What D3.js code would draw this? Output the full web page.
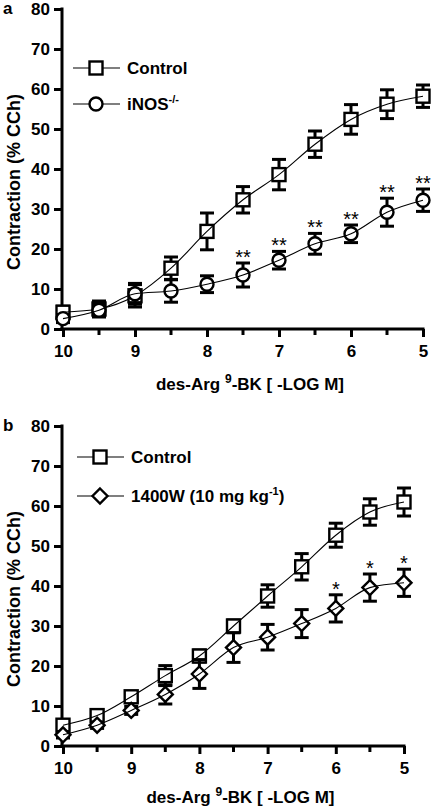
<!DOCTYPE html>
<html>
<head>
<meta charset="utf-8">
<script src="https://cdn.jsdelivr.net/npm/d3@7"></script>
<style>
  html, body { margin: 0; padding: 0; background: #fff; }
  svg { display: block; }
  text { font-family: "Liberation Sans", Arial, sans-serif; }
</style>
</head>
<body>
<svg id="chart" width="433" height="812"></svg>
<script>
// ---- data ----
const xValues = [10, 9.5, 9, 8.5, 8, 7.5, 7, 6.5, 6, 5.5, 5];
const xTickLabels = [10, 9, 8, 7, 6, 5];
const yTickLabels = [0, 10, 20, 30, 40, 50, 60, 70, 80];

const aControl    = [4.2, 5.0, 8.3, 15.2, 24.4, 32.3, 38.6, 46.2, 52.4, 56.2, 58.2];
const aControlErr = [1.5, 2.0, 2.8, 2.8, 4.6, 3.3, 3.8, 3.3, 3.7, 3.6, 2.8];
const aINOS       = [2.6, 4.7, 8.8, 9.5, 11.2, 13.5, 17.2, 21.3, 23.8, 29.2, 32.2];
const aINOSErr    = [1.0, 1.5, 2.6, 2.8, 2.1, 3.0, 2.2, 2.6, 2.2, 3.5, 2.8];
const aSig        = ["", "", "", "", "", "**", "**", "**", "**", "**", "**"];

const bControl    = [5.2, 7.6, 12.3, 17.6, 22.5, 30.0, 37.5, 44.8, 52.7, 58.5, 61.0];
const bControlErr = [1.2, 1.0, 1.2, 2.5, 1.5, 1.5, 2.8, 3.3, 3.0, 3.3, 3.5];
const b1400W      = [2.8, 5.2, 8.9, 12.9, 18.0, 24.6, 27.2, 30.6, 34.4, 39.6, 40.8];
const b1400WErr   = [0.8, 0.8, 1.0, 2.4, 3.6, 3.7, 3.2, 3.5, 3.4, 3.4, 3.4];
const bSig        = ["", "", "", "", "", "", "", "", "*", "*", "*"];

const svg = d3.select("#chart");

function marker(g, type, x, y) {
  if (type === "square") {
    g.append("rect").attr("x", x - 6.5).attr("y", y - 6.5).attr("width", 13).attr("height", 13)
      .attr("fill", "#fff").attr("stroke", "#000").attr("stroke-width", 2.4);
  } else if (type === "circle") {
    g.append("circle").attr("cx", x).attr("cy", y).attr("r", 6.5)
      .attr("fill", "#fff").attr("stroke", "#000").attr("stroke-width", 2.4);
  } else {
    const r = 7.5;
    g.append("path").attr("d", `M${x},${y - r}L${x + r},${y}L${x},${y + r}L${x - r},${y}Z`)
      .attr("fill", "#fff").attr("stroke", "#000").attr("stroke-width", 2.4);
  }
}

function drawPanel(cfg) {
  const g = svg.append("g");
  const x = d3.scaleLinear().domain([10, 5]).range([cfg.x0, cfg.x1]);
  const y = d3.scaleLinear().domain([0, 80]).range([cfg.y0, cfg.y1]);

  // axes
  const yAxis = d3.axisLeft(y).tickValues(yTickLabels).tickSize(8).tickPadding(4);
  const gy = g.append("g").attr("transform", `translate(${cfg.x0 - 1},0)`).call(yAxis);
  const xAxis = d3.axisBottom(x).tickValues(xTickLabels).tickSize(8).tickPadding(8).tickFormat(d3.format("d"));
  const gx = g.append("g").attr("transform", `translate(0,${cfg.y0})`).call(xAxis);
  // minor ticks
  gx.selectAll(".minor").data(xValues.filter(v => !xTickLabels.includes(v))).enter()
    .append("line").attr("x1", d => x(d)).attr("x2", d => x(d)).attr("y1", 0).attr("y2", 6)
    .attr("stroke", "#000").attr("stroke-width", 3);
  [gx, gy].forEach(a => {
    a.select(".domain").remove();
    a.selectAll(".tick line").attr("stroke-width", 3);
    a.selectAll(".tick text").attr("font-size", 17).attr("font-weight", "bold")
      .attr("font-family", "Liberation Sans, Arial, sans-serif").attr("fill", "#000");
  });
  g.append("line").attr("x1", cfg.x0 - 1).attr("x2", cfg.x0 - 1).attr("y1", y(0) + 1.5).attr("y2", y(80) - 1.5)
    .attr("stroke", "#000").attr("stroke-width", 3);
  g.append("line").attr("x1", cfg.x0 - 2.5).attr("x2", x(5) + 1.5).attr("y1", cfg.y0).attr("y2", cfg.y0)
    .attr("stroke", "#000").attr("stroke-width", 3);

  // series
  const line = d3.line().x(d => x(d[0])).y(d => y(d[1])).curve(d3.curveMonotoneX);
  cfg.series.forEach(s => {
    const pts = xValues.map((v, i) => [v, s.values[i], s.err[i]]);
    // error bars
    pts.forEach(p => {
      const cx = x(p[0]), top = y(p[1] + p[2]), bot = y(p[1] - p[2]);
      g.append("line").attr("x1", cx).attr("x2", cx).attr("y1", top).attr("y2", bot)
        .attr("stroke", "#000").attr("stroke-width", 3);
      [top, bot].forEach(yy => g.append("line").attr("x1", cx - 7).attr("x2", cx + 7)
        .attr("y1", yy).attr("y2", yy).attr("stroke", "#000").attr("stroke-width", 3));
    });
    pts.forEach(p => marker(g, s.marker, x(p[0]), y(p[1])));
    g.append("path").datum(pts).attr("d", line).attr("fill", "none")
      .attr("stroke", "#000").attr("stroke-width", 1.1);
    if (s.sig) {
      pts.forEach((p, i) => {
        if (!s.sig[i]) return;
        g.append("text").attr("x", x(p[0])).attr("y", y(p[1] + p[2]) + 1)
          .attr("text-anchor", "middle").attr("font-size", 20).text(s.sig[i]);
      });
    }
  });

  // legend
  cfg.series.forEach((s, i) => {
    const ly = cfg.legendY[i];
    g.append("line").attr("x1", cfg.legendX).attr("x2", cfg.legendX + 47).attr("y1", ly).attr("y2", ly)
      .attr("stroke", "#000").attr("stroke-width", 1.1);
    marker(g, s.marker, cfg.legendX + 23, ly);
    const t = g.append("text").attr("x", cfg.legendX + 54).attr("y", ly + 6)
      .attr("font-size", 17).attr("font-weight", "bold");
    s.label.forEach(part => {
      const ts = t.append("tspan").text(part.t);
      if (part.sup) ts.attr("font-size", 11).attr("dy", -7);
      else if (part.after) ts.attr("dy", 7);
    });
  });

  // panel letter
  g.append("text").attr("x", 3).attr("y", cfg.letterY).attr("font-size", 17).attr("font-weight", "bold").text(cfg.letter);

  // y label
  g.append("text").attr("transform", `translate(20,${(y(0) + y(80)) / 2 + 13}) rotate(-90)`)
    .attr("text-anchor", "middle").attr("font-size", 18).attr("font-weight", "bold")
    .text("Contraction (% CCh)");

  // x label
  const xl = g.append("text").attr("x", (cfg.x0 + cfg.x1) / 2 + 7).attr("y", cfg.xLabelY)
    .attr("text-anchor", "middle").attr("font-size", 17).attr("font-weight", "bold");
  xl.append("tspan").text("des-Arg ");
  xl.append("tspan").text("9").attr("font-size", 12).attr("dy", -7);
  xl.append("tspan").text("-BK [ -LOG M]").attr("dy", 7);
}

drawPanel({
  x0: 63, x1: 423, y0: 329, y1: 9, letter: "a", letterY: 14, xLabelY: 390,
  legendX: 73, legendY: [68, 104],
  series: [
    { marker: "square", values: aControl, err: aControlErr, label: [{ t: "Control" }] },
    { marker: "circle", values: aINOS, err: aINOSErr, sig: aSig,
      label: [{ t: "iNOS" }, { t: "-/-", sup: true }] }
  ]
});

drawPanel({
  x0: 63, x1: 404, y0: 746, y1: 426, letter: "b", letterY: 431, xLabelY: 803,
  legendX: 77, legendY: [457, 496],
  series: [
    { marker: "square", values: bControl, err: bControlErr, label: [{ t: "Control" }] },
    { marker: "diamond", values: b1400W, err: b1400WErr, sig: bSig,
      label: [{ t: "1400W (10 mg kg" }, { t: "-1", sup: true }, { t: ")", after: true }] }
  ]
});
</script>
</body>
</html>
